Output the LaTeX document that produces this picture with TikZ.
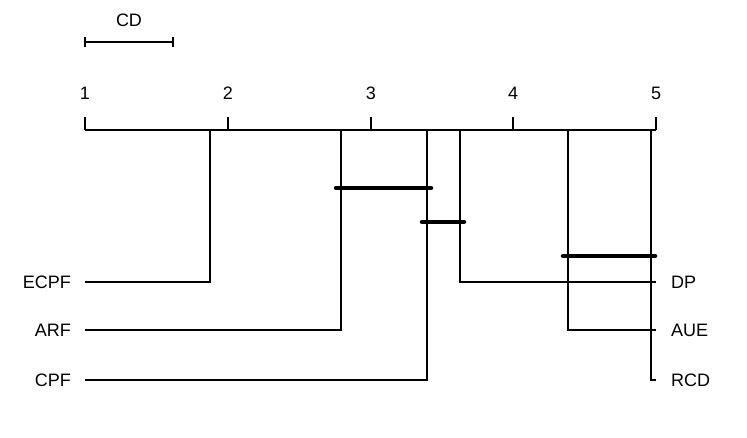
\documentclass[tikz,border=0pt]{standalone}
\usepackage{fontspec}
\setmainfont{Liberation Sans}
\begin{document}
\begin{tikzpicture}[x=1pt, y=-1pt,
    axisline/.style={line width=1.6pt},
    rankline/.style={line width=1.4pt},
    clique/.style={line width=4.5pt, line cap=round},
    lbl/.style={font=\fontsize{18}{20}\selectfont, inner sep=0pt}
]
\useasboundingbox (0,0) rectangle (747,437);

% CD bar
\draw[rankline] (85,42) -- (173,42);
\draw[rankline] (85,37) -- (85,47);
\draw[rankline] (173,37) -- (173,47);
\node[lbl] (cd) at (129,20) {CD};

% axis
\draw[axisline] (85,130) -- (656,130);
\foreach \r/\xp in {1/85,2/228,3/371,4/513,5/656} {
  \draw[axisline] (\xp,117) -- (\xp,130);
  \node[lbl] at (\xp,93) {\r};
}

% left methods
\coordinate (ecpfA) at (210,130);
\coordinate (arfA) at (341,130);
\coordinate (cpfA) at (427,130);
\node[lbl, anchor=east] (ecpf) at (71,282) {ECPF};
\node[lbl, anchor=east] (arf) at (71,330) {ARF};
\node[lbl, anchor=east] (cpf) at (71,380) {CPF};
\draw[rankline] (ecpfA) |- ([xshift=14pt]ecpf.east);
\draw[rankline] (arfA) |- ([xshift=14pt]arf.east);
\draw[rankline] (cpfA) |- ([xshift=14pt]cpf.east);

% right methods
\coordinate (dpA) at (460,130);
\coordinate (aueA) at (568,130);
\coordinate (rcdA) at (651,130);
\node[lbl, anchor=west] (dp) at (671,282) {DP};
\node[lbl, anchor=west] (aue) at (671,330) {AUE};
\node[lbl, anchor=west] (rcd) at (671,380) {RCD};
\draw[rankline] (dpA) |- ([xshift=-15pt]dp.west);
\draw[rankline] (aueA) |- ([xshift=-15pt]aue.west);
\draw[rankline] (rcdA) |- ([xshift=-15pt]rcd.west);

% cliques
\draw[clique] (336,188) -- (431,188);
\draw[clique] (422,222) -- (464,222);
\draw[clique] (563,256) -- (655,256);
\end{tikzpicture}
\end{document}
